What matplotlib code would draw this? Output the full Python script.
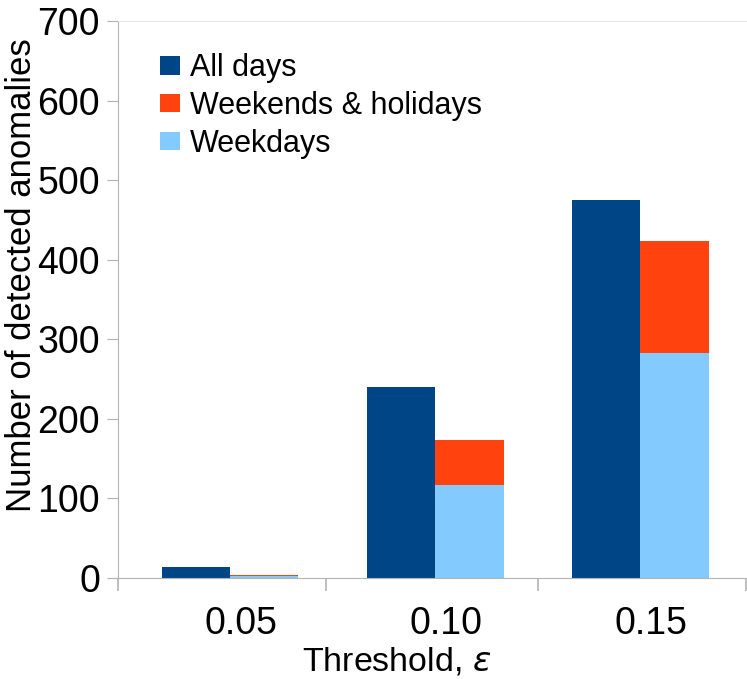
import numpy as np
import matplotlib.pyplot as plt
import matplotlib.transforms as mtransforms

plt.rcParams['font.family'] = ['Liberation Sans', 'DejaVu Sans']

# data
thresholds = ['0.05', '0.10', '0.15']
all_days = [14, 240, 475]
weekdays = [2, 117, 283]
weekends = [2, 57, 141]   # stacked on top of weekdays

c_all = '#004586'
c_wkend = '#ff420e'
c_wkday = '#83caff'

fig = plt.figure(figsize=(7.47, 6.79), dpi=100)
ax = fig.add_axes([118/747, 1 - 578/679, (746 - 118)/747, (578 - 21)/679])

x = np.arange(len(thresholds))
w = 1/3
ax.bar(x - w/2, all_days, w, color=c_all, label='All days')
ax.bar(x + w/2, weekdays, w, color=c_wkday, label='Weekdays')
ax.bar(x + w/2, weekends, w, bottom=weekdays, color=c_wkend, label='Weekends & holidays')

x0, x1 = -0.546, 2.515
ax.set_xlim(x0, x1)
ax.set_ylim(0, 700)
ax.set_yticks(range(0, 701, 100))
ax.set_xticks(x)
ax.set_xticklabels(thresholds)
ax.set_xticks([x0, 0.47, 1.5, x1], minor=True)
ax.tick_params(axis='x', which='major', length=0, labelsize=27, pad=20)
ax.tick_params(axis='x', which='minor', length=9, color='#b3b3b3', width=1.2)
ax.tick_params(axis='y', length=8, color='#b3b3b3', labelsize=27, pad=5)

# labels sit a bit right of the bar groups in the original
offset = mtransforms.ScaledTranslation(0.11, 0, fig.dpi_scale_trans)
for lbl in ax.get_xticklabels():
    lbl.set_transform(lbl.get_transform() + offset)

for s in ['left', 'bottom']:
    ax.spines[s].set_color('#b3b3b3')
ax.spines['top'].set_color('#e6e6e6')
ax.spines['right'].set_visible(False)

ax.set_ylabel('Number of detected anomalies', fontsize=25)
ax.yaxis.set_label_coords(-0.128, 0.544)
ax.set_xlabel('Threshold, $\\varepsilon$', fontsize=24.5)
ax.xaxis.set_label_coords(0.443, -0.121)

h, l = ax.get_legend_handles_labels()
order = [0, 2, 1]
ax.legend([h[i] for i in order], [l[i] for i in order], loc='upper left',
          bbox_to_anchor=(0.067, 0.942), frameon=False, fontsize=22,
          borderpad=0, borderaxespad=0,
          handlelength=0.65, handleheight=0.55, handletextpad=0.33, labelspacing=0.25)

fig.savefig('out.png', dpi=100)
